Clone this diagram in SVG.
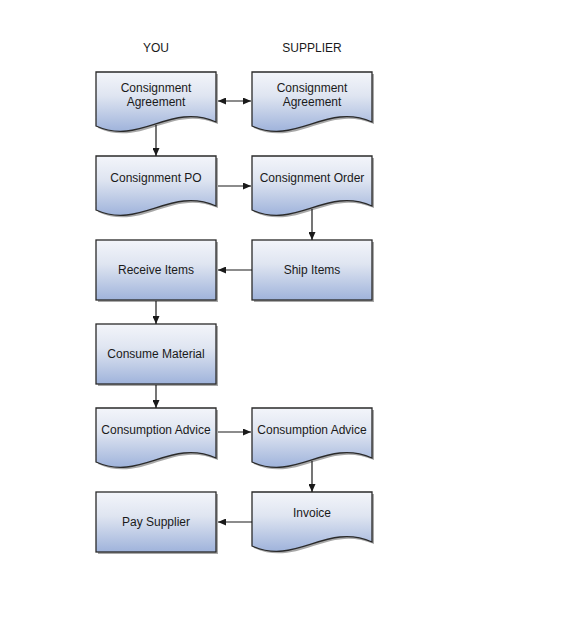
<svg xmlns="http://www.w3.org/2000/svg" width="576" height="624" viewBox="0 0 576 624">
<defs>
<linearGradient id="g" x1="0" y1="0" x2="0" y2="1">
<stop offset="0" stop-color="#f3f5fa"/>
<stop offset="0.4" stop-color="#dfe5f1"/>
<stop offset="1" stop-color="#9fb3db"/>
</linearGradient>
<marker id="ah" markerWidth="8" markerHeight="7" refX="8" refY="3.5" orient="auto-start-reverse" markerUnits="userSpaceOnUse">
<path d="M0,0 L8,3.5 L0,7 Z" fill="#1a1a1a"/>
</marker>
<path id="doc" d="M0,0 H120 V50 C74,30 44,74 0,54 Z"/>
<rect id="box" x="0" y="0" width="120" height="60"/>
</defs>
<style>
.sh{fill:#a8a8a8}
.fg{fill:url(#g);stroke:#2a2a2a;stroke-width:1.3}
text{font-family:"Liberation Sans",Arial,sans-serif;font-size:12px;fill:#1a1a1a;text-anchor:middle}
.c{fill:none;stroke:#1a1a1a;stroke-width:1.2;marker-end:url(#ah)}
</style>
<rect width="576" height="624" fill="#ffffff"/>
<text x="156" y="52">YOU</text>
<text x="312" y="52">SUPPLIER</text>

<g id="n1" transform="translate(96,72)"><use href="#doc" class="sh" x="2" y="2"/><use href="#doc" class="fg"/><text x="60" y="20">Consignment</text><text x="60" y="34">Agreement</text></g>
<g id="n2" transform="translate(252,72)"><use href="#doc" class="sh" x="2" y="2"/><use href="#doc" class="fg"/><text x="60" y="20">Consignment</text><text x="60" y="34">Agreement</text></g>
<g id="n3" transform="translate(96,156)"><use href="#doc" class="sh" x="2" y="2"/><use href="#doc" class="fg"/><text x="60" y="26">Consignment PO</text></g>
<g id="n4" transform="translate(252,156)"><use href="#doc" class="sh" x="2" y="2"/><use href="#doc" class="fg"/><text x="60" y="26">Consignment Order</text></g>
<g id="n5" transform="translate(96,240)"><use href="#box" class="sh" x="2" y="2"/><use href="#box" class="fg"/><text x="60" y="34">Receive Items</text></g>
<g id="n6" transform="translate(252,240)"><use href="#box" class="sh" x="2" y="2"/><use href="#box" class="fg"/><text x="60" y="34">Ship Items</text></g>
<g id="n7" transform="translate(96,324)"><use href="#box" class="sh" x="2" y="2"/><use href="#box" class="fg"/><text x="60" y="34">Consume Material</text></g>
<g id="n8" transform="translate(96,408)"><use href="#doc" class="sh" x="2" y="2"/><use href="#doc" class="fg"/><text x="60" y="26">Consumption Advice</text></g>
<g id="n9" transform="translate(252,408)"><use href="#doc" class="sh" x="2" y="2"/><use href="#doc" class="fg"/><text x="60" y="26">Consumption Advice</text></g>
<g id="n10" transform="translate(96,492)"><use href="#box" class="sh" x="2" y="2"/><use href="#box" class="fg"/><text x="60" y="34">Pay Supplier</text></g>
<g id="n11" transform="translate(252,492)"><use href="#doc" class="sh" x="2" y="2"/><use href="#doc" class="fg"/><text x="60" y="25">Invoice</text></g>

<g id="connectors">
<path class="c" d="M218,101 H251" marker-start="url(#ah)"/>
<path class="c" d="M156,125 V156"/>
<path class="c" d="M218,186 H251"/>
<path class="c" d="M312,209 V240"/>
<path class="c" d="M252,270 H218"/>
<path class="c" d="M156,301 V324"/>
<path class="c" d="M156,385 V408"/>
<path class="c" d="M218,432 H251"/>
<path class="c" d="M312,461 V492"/>
<path class="c" d="M252,522 H218"/>
</g>
</svg>
